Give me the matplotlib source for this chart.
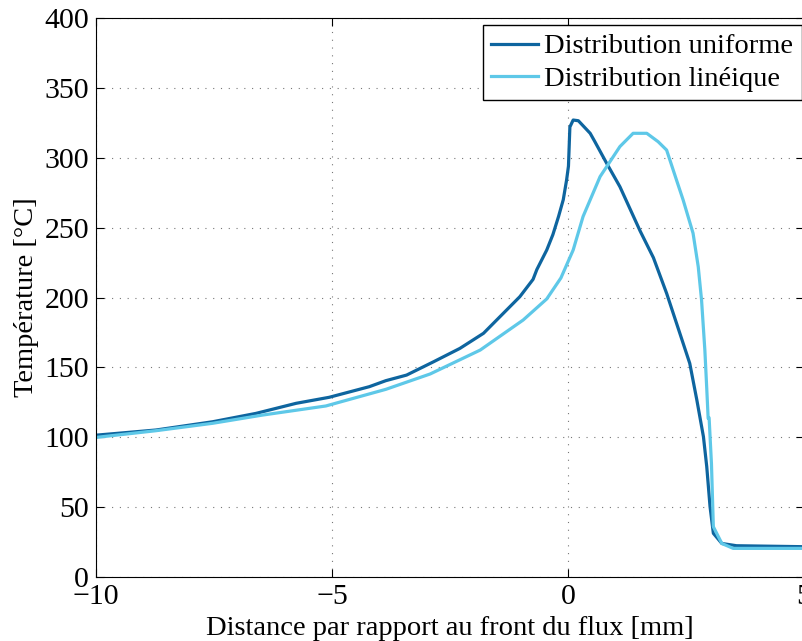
import matplotlib.pyplot as plt
import numpy as np

plt.rcParams['font.family'] = ['Liberation Serif', 'DejaVu Serif']

# Distribution uniforme
x_unif = np.array([-10, -8.73, -7.53, -6.61, -5.76, -5.06, -4.21, -3.86, -3.42, -2.85,
                   -2.29, -1.79, -1.37, -1.02, -0.74, -0.66, -0.45, -0.32, -0.20, -0.10,
                   -0.03, 0.01, 0.04, 0.11, 0.22, 0.47, 0.57, 0.82, 1.10, 1.53, 1.81,
                   2.09, 2.37, 2.58, 2.73, 2.87, 2.94, 3.01, 3.08, 3.26, 3.57, 5.0])
y_unif = np.array([101.5, 105.2, 111.1, 117.1, 124.3, 128.6, 136.2, 140.5, 144.5, 154,
                   163.6, 174.4, 188.7, 200.6, 213, 220, 234, 245, 258, 270,
                   284, 294, 322, 327, 326.5, 317.5, 311.5, 296, 279.3, 247.5, 228.5,
                   203, 174.4, 152.9, 126.7, 100.4, 79, 50.3, 31.3, 24, 22.4, 21.7])

# Distribution linéique
x_lin = np.array([-10, -8.73, -7.53, -6.47, -5.13, -3.86, -2.92, -1.86, -0.95, -0.45,
                  -0.15, 0.11, 0.32, 0.68, 1.10, 1.38, 1.67, 1.91, 2.09, 2.30, 2.44,
                  2.65, 2.76, 2.83, 2.90, 2.94, 2.97, 2.99, 3.04, 3.08, 3.26, 3.50, 5.0])
y_lin = np.array([99.9, 104.7, 110, 115.9, 122.4, 134.3, 145.3, 162.4, 183.9, 199,
                  214, 234, 258, 286.5, 308, 317.5, 317.5, 311.5, 305.5, 284, 269.8,
                  246, 222, 198.2, 162.4, 135, 113.5, 114, 81, 36, 24, 20.5, 20.5])

fig = plt.figure(figsize=(8.03, 6.41), dpi=100)
ax = fig.add_axes([0.1196, 0.0998, 0.8816, 0.8721])

ax.plot(x_unif, y_unif, color="#0e659f", lw=2.3, label='Distribution uniforme')
ax.plot(x_lin, y_lin, color="#5ec8e8", lw=2.3, label='Distribution linéique')

ax.set_xlim(-10, 5)
ax.set_ylim(0, 400)
ax.set_xticks([-10, -5, 0, 5])
ax.set_yticks(np.arange(0, 401, 50))
ax.grid(True, linestyle=(0, (1, 6)), color='#777777', linewidth=0.8)
ax.tick_params(direction='in', top=True, right=True, labelsize=21.5, length=6, pad=5)
ax.set_xlabel('Distance par rapport au front du flux [mm]', fontsize=20.5, labelpad=4)
ax.set_ylabel('Température [°C]', fontsize=20.5, labelpad=4)

leg = ax.legend(loc='upper right', bbox_to_anchor=(0.9968, 0.9875), borderaxespad=0,
                fontsize=20.5, fancybox=False, framealpha=1, edgecolor='black',
                handlelength=1.65, handletextpad=0.2, borderpad=0.3, labelspacing=0.22)
leg.get_frame().set_linewidth(1)

fig.savefig("out.png", dpi=100)
